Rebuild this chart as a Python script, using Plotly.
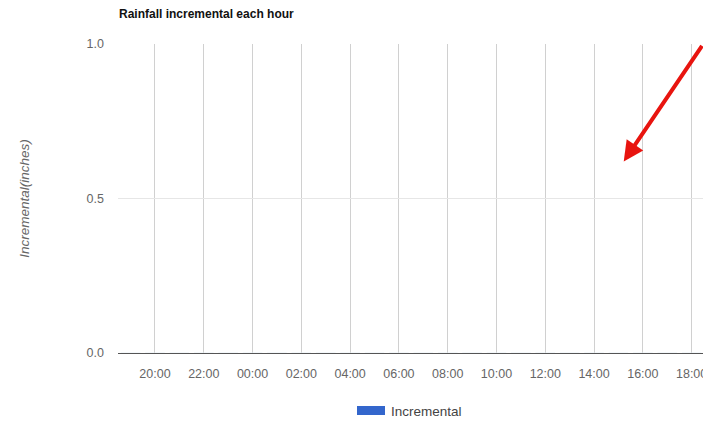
import plotly.graph_objects as go
import pandas as pd

# Data: hourly incremental rainfall (inches) — all readings are zero in the reference
hours = pd.date_range("2014-05-01 19:00", "2014-05-02 18:00", freq="h")
incremental = [0.0] * len(hours)

x_start = "2014-05-01 18:29"
x_end = "2014-05-02 18:28"
tick_start = "2014-05-01 20:00"

title_text = "Rainfall incremental each hour"
y_title = "Incremental(inches)"
series_name = "Incremental"
series_color = "#3366cc"

fig = go.Figure()
fig.add_trace(go.Bar(x=hours, y=incremental, name=series_name,
                     marker_color=series_color, showlegend=False))

fig.update_layout(
    width=703, height=421,
    margin=dict(l=118, r=0, t=44, b=68),
    paper_bgcolor="white", plot_bgcolor="white",
    font=dict(family="Arial, Liberation Sans, sans-serif", size=12, color="#444"),
    title=dict(text="<b>" + title_text + "</b>", x=119/703, xanchor="left",
               y=1 - 14/421, yanchor="middle",
               font=dict(size=12, color="#111")),
    showlegend=False,
    bargap=0.2,
)

fig.update_xaxes(
    type="date", range=[x_start, x_end],
    tick0=tick_start, dtick=2 * 3600 * 1000, tickformat="%H:%M",
    showgrid=True, gridcolor="#d0d0d0", gridwidth=1,
    showline=True, linecolor="#555", linewidth=1,
    ticks="", ticklabelstandoff=9, automargin=False, ticklabeloverflow="allow",
    tickfont=dict(size=12.5, color="#666"),
)
fig.update_yaxes(
    range=[0, 1], tickvals=[0, 0.5, 1.0], ticktext=["0.0", "0.5", "1.0"],
    showgrid=True, gridcolor="#e6e6e6", gridwidth=1, zeroline=False,
    ticks="", ticklabelstandoff=13, automargin=False,
    tickfont=dict(size=12.5, color="#666"),
    title=dict(text="<i>" + y_title + "</i>", font=dict(size=13.5, color="#666"), standoff=53),
)

# Legend drawn as a wide swatch + label (matches the reference's rectangular key)
fig.add_shape(type="rect", xref="paper", yref="paper",
              x0=(357 - 118) / 585, x1=(385 - 118) / 585,
              y0=(353 - 415) / 309, y1=(353 - 406) / 309,
              fillcolor=series_color, line=dict(width=0))
fig.add_annotation(text=series_name, xref="paper", yref="paper",
                   x=(389 - 118) / 585, y=(353 - 411) / 309,
                   xanchor="left", yanchor="middle", showarrow=False,
                   font=dict(size=13.5, color="#444"))

# Red arrow annotation
fig.add_annotation(
    x=pd.Timestamp("2014-05-02 15:13"), y=0.62, xref="x", yref="y",
    ax=85, ay=-117, axref="pixel", ayref="pixel",
    text="", showarrow=True, arrowhead=2, arrowsize=1.0, arrowwidth=4,
    arrowcolor="#e8140f",
)

fig.write_html("out.html", config={"displayModeBar": False},
               post_script="document.body.style.margin='0';document.body.style.overflow='hidden';")
